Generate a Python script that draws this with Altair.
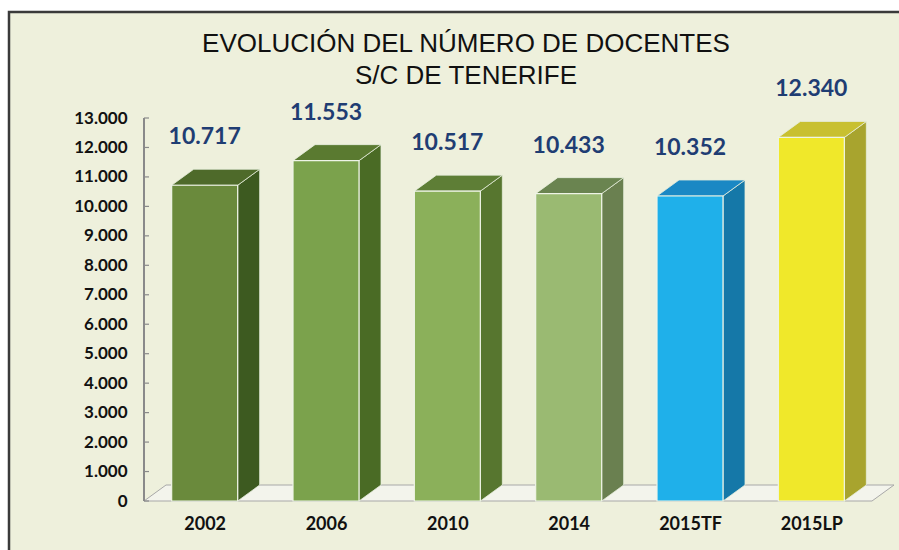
import json
import altair as alt
import pandas as pd

# ---- data ----
categories = ["2002", "2006", "2010", "2014", "2015TF", "2015LP"]
values = [10717, 11553, 10517, 10433, 10352, 12340]
value_labels = ["10.717", "11.553", "10.517", "10.433", "10.352", "12.340"]
front_colors = ["#6a8a3c", "#7ba24c", "#8bb05a", "#9aba72", "#1fb0ea", "#f0e82a"]
top_colors = ["#4e6a2a", "#5a7a30", "#5e7e36", "#6a8450", "#1a88c4", "#c8c030"]
side_colors = ["#3d5a20", "#4a6b25", "#57762f", "#6a8050", "#1578a8", "#a8a42e"]
y_ticks = list(range(0, 13001, 1000))
title_lines = ["EVOLUCIÓN DEL NÚMERO DE DOCENTES", "S/C DE TENERIFE"]

# ---- layout ----
W, H = 728, 383
YMAX = 13000
N = len(categories)
px_x = W / N          # pixels per x unit
px_y = H / YMAX       # pixels per value unit
HW = 33 / px_x        # half front width (x units)
DX = 22 / px_x        # depth x (x units)
DY = 16 / px_y        # depth y (value units)
TICK = 5 / px_x       # inward tick stub length (x units)
BG = "#eef0dc"

front_rows, side_rows, top_rows, label_rows = [], [], [], []
for i, (c, v) in enumerate(zip(categories, values)):
    cx = i + 0.5
    front_rows.append(dict(cat=c, x=cx - HW, x2=cx + HW, y=v, y2=0, col=front_colors[i]))
    side_rows.append(dict(cat=c, x=cx + HW, y=v, y2=0, col=side_colors[i]))
    side_rows.append(dict(cat=c, x=cx + HW + DX, y=v + DY, y2=DY, col=side_colors[i]))
    top_rows.append(dict(cat=c, y=v, x=cx - HW, x2=cx + HW, col=top_colors[i]))
    top_rows.append(dict(cat=c, y=v + DY, x=cx - HW + DX, x2=cx + HW + DX, col=top_colors[i]))
    label_rows.append(dict(cat=c, x=cx, y=v, txt=value_labels[i]))

front_df = pd.DataFrame(front_rows)
side_df = pd.DataFrame(side_rows)
top_df = pd.DataFrame(top_rows)
label_df = pd.DataFrame(label_rows)
floor_df = pd.DataFrame([
    dict(y=0, x=0, x2=N),
    dict(y=DY, x=DX, x2=N + DX),
])
axis_df = pd.DataFrame({"x": [0.0], "y": [0.0]})
axline_df = pd.DataFrame({"x": [0.0], "y": [0.0], "y2": [float(YMAX)]})
tick_df = pd.DataFrame({"x": [0.0] * len(y_ticks), "x2": [TICK] * len(y_ticks), "y": y_ticks})

xscale = alt.Scale(domain=[0, N], nice=False, zero=False)
yscale = alt.Scale(domain=[0, YMAX], nice=False)

label_expr = "%s[floor(datum.value)]" % json.dumps(categories)
xaxis = alt.Axis(
    values=[i + 0.5 for i in range(N)], labelExpr=label_expr,
    grid=False, domain=False, ticks=False, labelPadding=14,
    labelFont="Lato", labelFontWeight="bold", labelFontSize=18,
    labelColor="#111111", title=None, zindex=1,
)
yaxis = alt.Axis(
    values=y_ticks, grid=False, ticks=False, domain=False,
    labelExpr="replace(format(datum.value, ',d'), ',', '.')",
    labelPadding=17,
    labelFont="Lato", labelFontWeight="bold", labelFontSize=17,
    labelColor="#111111", title=None, zindex=1,
)


def X(field, **kw):
    return alt.X(field, scale=xscale, axis=xaxis, title=None, **kw)


def Y(field, **kw):
    return alt.Y(field, scale=yscale, axis=yaxis, title=None, **kw)


frame = alt.Chart(pd.DataFrame({"a": [0]})).mark_rect(
    fill=BG, stroke="#3a3a3a", strokeWidth=2.5
).encode(
    x=alt.value(-135), x2=alt.value(765), y=alt.value(-106), y2=alt.value(445)
)

title = alt.Chart(pd.DataFrame({"a": [0]})).mark_text(
    font="Liberation Sans", fontSize=26, color="#111111", align="center",
    baseline="alphabetic", lineHeight=32,
).encode(
    x=alt.value(322), y=alt.value(-66), text=alt.value(title_lines)
)

floor = alt.Chart(floor_df).mark_area(
    orient="horizontal", fill="#f3f4ec", stroke="#a8a8a8", strokeWidth=1
).encode(
    y=Y("y:Q"),
    x=X("x:Q", stack=None),
    x2="x2:Q",
)

axis_line = alt.Chart(axline_df).mark_rule(color="#8a8a8a", strokeWidth=2).encode(
    x=X("x:Q"), y=Y("y:Q"), y2="y2:Q",
)

axis_ticks = alt.Chart(tick_df).mark_rule(color="#8a8a8a", strokeWidth=1.2).encode(
    x=X("x:Q"), x2="x2:Q", y=Y("y:Q"),
)

axes_layer = alt.Chart(axis_df).mark_point(opacity=0).encode(
    x=X("x:Q"), y=Y("y:Q"),
)

side = alt.Chart(side_df).mark_area(stroke="#e6eddc", strokeWidth=0.8).encode(
    x=X("x:Q"),
    y=Y("y:Q", stack=None),
    y2="y2:Q",
    fill=alt.Fill("col:N", scale=None),
    detail="cat:N",
)

top = alt.Chart(top_df).mark_area(orient="horizontal", stroke="#e6eddc", strokeWidth=0.8).encode(
    y=Y("y:Q"),
    x=X("x:Q", stack=None),
    x2="x2:Q",
    fill=alt.Fill("col:N", scale=None),
    detail="cat:N",
)

front = alt.Chart(front_df).mark_rect(stroke="#eef4e6", strokeWidth=1.2).encode(
    x=X("x:Q"),
    x2="x2:Q",
    y=Y("y:Q"),
    y2="y2:Q",
    fill=alt.Fill("col:N", scale=None),
)

labels = alt.Chart(label_df).mark_text(
    font="Lato", fontWeight="bold", fontSize=23, color="#1f3d73",
    baseline="middle", dy=-48,
).encode(
    x=X("x:Q"),
    y=Y("y:Q"),
    text="txt:N",
)

chart = alt.layer(
    frame, title, floor, axis_line, axis_ticks, axes_layer, side, top, front, labels
).properties(
    width=W, height=H,
    padding={"left": 144, "top": 118, "right": 27, "bottom": 49},
    autosize=alt.AutoSizeParams(type="none"),
    background="#ffffff",
).configure_view(stroke=None)

chart.save("out.html", embed_options={"renderer": "svg", "actions": False})
